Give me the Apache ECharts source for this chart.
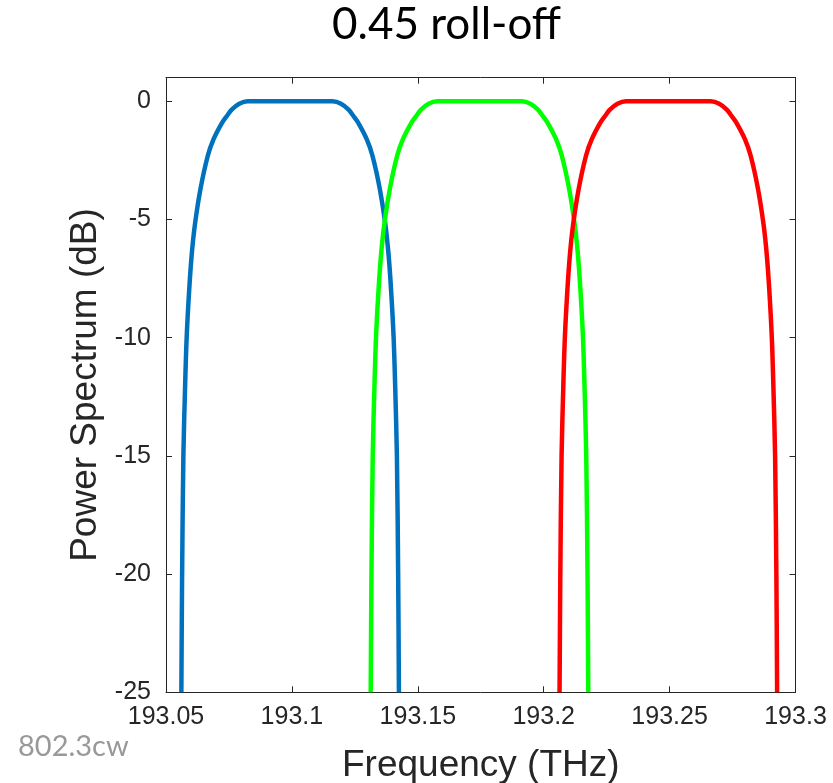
<!DOCTYPE html>
<html>
<head>
<meta charset="utf-8">
<script src="https://cdn.jsdelivr.net/npm/echarts@6/dist/echarts.min.js"></script>
<style>
html,body{margin:0;padding:0;background:#fff;}
#chart{width:833px;height:783px;}
</style>
</head>
<body>
<div id="chart"></div>
<script>
// Power levels (dB) at which the frequencies of each curve were read
const dbLevels = [-25, -20, -15, -12, -10, -8, -6.5, -5.2, -3.7, -2.3, -1.6, -0.9, -0.6, -0.35, -0.1, 0,
                  0, -0.1, -0.35, -0.6, -0.9, -1.6, -2.3, -3.7, -5.2, -6.5, -8, -10, -12, -15, -20, -25];
// Frequencies (THz) read for each channel
const blueFreq = [193.0561, 193.0564, 193.0569, 193.0576, 193.0582, 193.0592, 193.0602, 193.0615, 193.0637, 193.0666, 193.0689, 193.0723, 193.0743, 193.0761, 193.0791, 193.0825,
                  193.1161, 193.1195, 193.1225, 193.1243, 193.1263, 193.1297, 193.1320, 193.1349, 193.1371, 193.1384, 193.1394, 193.1404, 193.1410, 193.1417, 193.1422, 193.1425];
const greenFreq = [193.1313, 193.1316, 193.1321, 193.1328, 193.1334, 193.1344, 193.1354, 193.1367, 193.1389, 193.1418, 193.1441, 193.1475, 193.1495, 193.1513, 193.1543, 193.1577,
                   193.1913, 193.1947, 193.1977, 193.1995, 193.2015, 193.2049, 193.2072, 193.2101, 193.2123, 193.2136, 193.2146, 193.2156, 193.2162, 193.2169, 193.2174, 193.2177];
const redFreq = [193.2063, 193.2066, 193.2071, 193.2078, 193.2084, 193.2094, 193.2104, 193.2117, 193.2139, 193.2168, 193.2191, 193.2225, 193.2245, 193.2263, 193.2293, 193.2327,
                 193.2663, 193.2697, 193.2727, 193.2745, 193.2765, 193.2799, 193.2822, 193.2851, 193.2873, 193.2886, 193.2896, 193.2906, 193.2912, 193.2919, 193.2924, 193.2927];

const titleText = '0.45 roll-off';
const xName = 'Frequency (THz)';
const yName = 'Power Spectrum (dB)';
const noteText = '802.3cw';

function pairs(fs) { return fs.map((f, i) => [f, dbLevels[i]]); }

const axisColor = '#262626';
const tickFont = 'Liberation Sans, Arial, Helvetica, sans-serif';

const chart = echarts.init(document.getElementById('chart'), null, {renderer: 'canvas'});

function mkX(show, pos) {
  return {
    type: 'value', min: 193.05, max: 193.3, interval: 0.05, position: pos,
    axisLine: {show: true, onZero: false, lineStyle: {color: axisColor, width: 1}},
    axisTick: {show: true, inside: true, length: 6, lineStyle: {color: axisColor}},
    splitLine: {show: false},
    axisLabel: {show: show, margin: 12, color: axisColor, fontSize: 25, fontFamily: tickFont,
      formatter: v => parseFloat(v.toFixed(2)).toString()},
    name: show ? xName : '', nameLocation: 'middle', nameGap: 55,
    nameTextStyle: {color: axisColor, fontSize: 37, fontFamily: tickFont}
  };
}
function mkY(show, pos) {
  return {
    type: 'value', min: -25, max: 1, interval: 5, position: pos,
    axisLine: {show: true, onZero: false, lineStyle: {color: axisColor, width: 1}},
    axisTick: {show: true, inside: true, length: 6, lineStyle: {color: axisColor}},
    splitLine: {show: false},
    axisLabel: {show: show, margin: 15, color: axisColor, fontSize: 25, fontFamily: tickFont,
      formatter: v => (v > 0 ? '' : String(Math.round(v)))},
    name: show ? yName : '', nameLocation: 'middle', nameGap: 57, nameRotate: 90,
    nameTextStyle: {color: axisColor, fontSize: 37, fontFamily: tickFont}
  };
}

const lineBase = {type: 'line', showSymbol: false, smooth: 0.3, clip: true, xAxisIndex: 0, yAxisIndex: 0};

chart.setOption({
  animation: false,
  backgroundColor: '#ffffff',
  grid: {left: 166, right: 37.5, top: 77.7, bottom: 90.7, containLabel: false, outerBoundsMode: 'none'},
  xAxis: [mkX(true, 'bottom'), mkX(false, 'top')],
  yAxis: [mkY(true, 'left'), mkY(false, 'right')],
  graphic: [{
    type: 'text', left: 332, top: 3,
    style: {text: titleText, fill: '#000', fontSize: 44, fontWeight: 400, fontFamily: 'Lato, "Open Sans", sans-serif'}
  }, {
    type: 'text', left: 18, top: 732,
    style: {text: noteText, fill: '#999999', fontSize: 29, fontWeight: 400, fontFamily: 'Lato, "Open Sans", sans-serif'}
  }],
  series: [
    Object.assign({}, lineBase, {name: 'ch1', data: pairs(blueFreq), lineStyle: {color: '#0072BD', width: 4.5}}),
    Object.assign({}, lineBase, {name: 'ch2', data: pairs(greenFreq), lineStyle: {color: '#00FF00', width: 4.5}}),
    Object.assign({}, lineBase, {name: 'ch3', data: pairs(redFreq), lineStyle: {color: '#FF0000', width: 4.5}})
  ]
});
</script>
</body>
</html>
